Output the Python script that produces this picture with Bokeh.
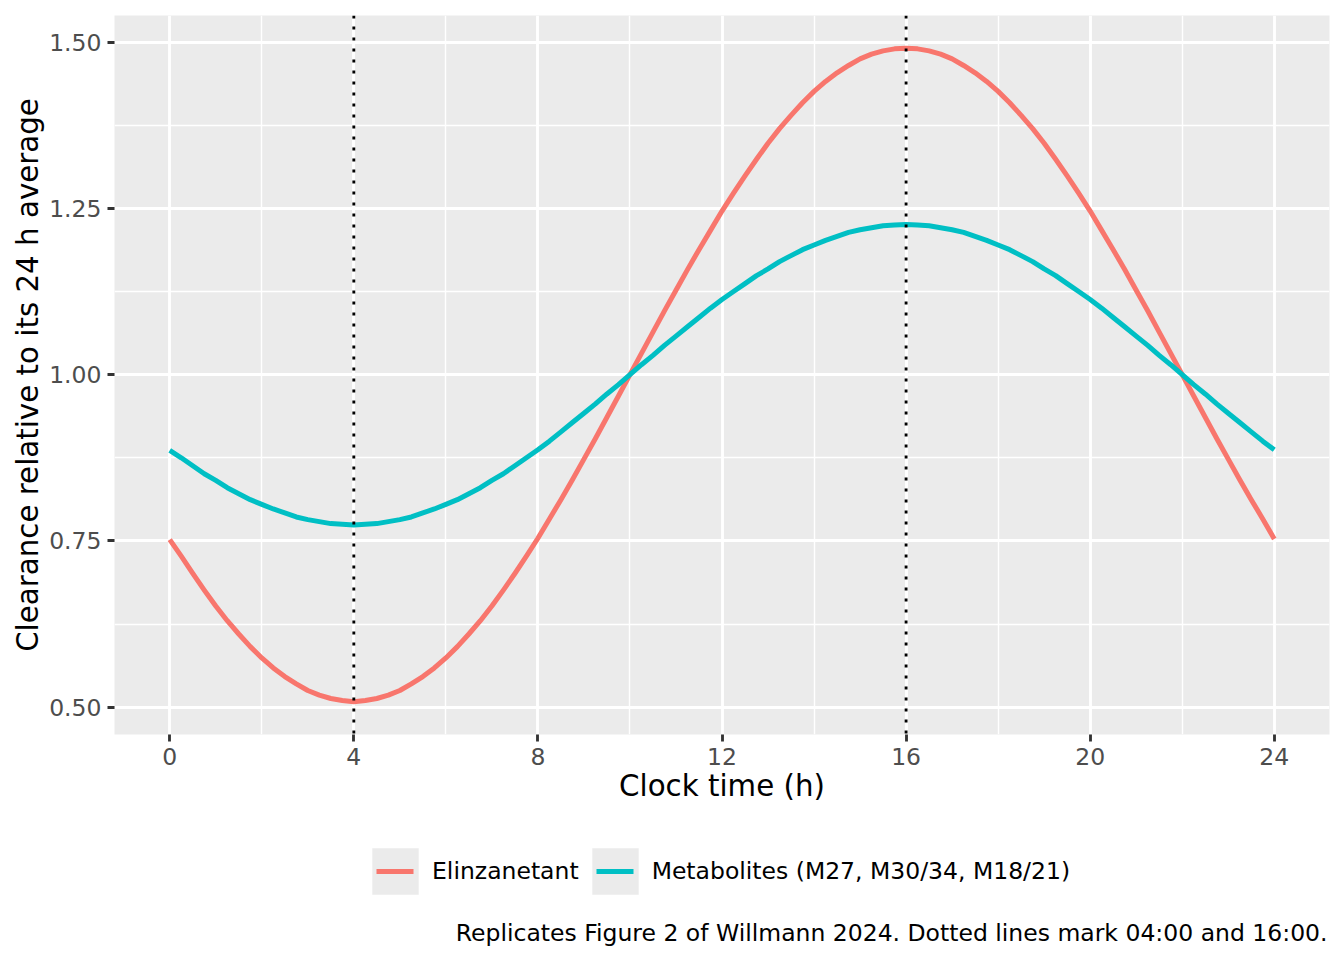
import numpy as np
from bokeh.plotting import figure
from bokeh.layouts import column
from bokeh.models import (Range1d, FixedTicker, PrintfTickFormatter, Span,
                          Legend, LegendItem, Label)
from bokeh.embed import file_html
from bokeh.resources import INLINE

# ---- data (every quarter hour) ----
hours = [0, 0.25, 0.5, 0.75, 1, 1.25, 1.5, 1.75, 2, 2.25, 2.5, 2.75, 3, 3.25,
         3.5, 3.75, 4, 4.25, 4.5, 4.75, 5, 5.25, 5.5, 5.75, 6, 6.25, 6.5,
         6.75, 7, 7.25, 7.5, 7.75, 8, 8.25, 8.5, 8.75, 9, 9.25, 9.5, 9.75,
         10, 10.25, 10.5, 10.75, 11, 11.25, 11.5, 11.75, 12, 12.25, 12.5,
         12.75, 13, 13.25, 13.5, 13.75, 14, 14.25, 14.5, 14.75, 15, 15.25,
         15.5, 15.75, 16, 16.25, 16.5, 16.75, 17, 17.25, 17.5, 17.75, 18,
         18.25, 18.5, 18.75, 19, 19.25, 19.5, 19.75, 20, 20.25, 20.5, 20.75,
         21, 21.25, 21.5, 21.75, 22, 22.25, 22.5, 22.75, 23, 23.25, 23.5,
         23.75, 24]
elinzanetant = [
    0.752, 0.727, 0.701, 0.676, 0.652, 0.630, 0.610, 0.591, 0.574, 0.559,
    0.546, 0.535, 0.525, 0.518, 0.513, 0.510, 0.508,
    0.510, 0.513, 0.518, 0.525, 0.535, 0.546, 0.559, 0.574, 0.591, 0.610,
    0.630, 0.652, 0.676, 0.701, 0.727, 0.754, 0.783, 0.812, 0.842, 0.873,
    0.904, 0.936, 0.968, 1.000, 1.032, 1.064, 1.096, 1.127, 1.158, 1.188,
    1.217, 1.246, 1.273, 1.299, 1.324, 1.348, 1.370, 1.390, 1.409, 1.426,
    1.441, 1.454, 1.465, 1.475, 1.482, 1.487, 1.490, 1.491,
    1.490, 1.487, 1.482, 1.475, 1.465, 1.454, 1.441, 1.426, 1.409, 1.390,
    1.370, 1.348, 1.324, 1.299, 1.273, 1.246, 1.217, 1.188, 1.158, 1.127,
    1.096, 1.064, 1.032, 1.000, 0.968, 0.936, 0.904, 0.873, 0.842, 0.812,
    0.783, 0.753]
metabolites = [
    0.886, 0.875, 0.863, 0.851, 0.841, 0.830, 0.821, 0.812, 0.805, 0.798,
    0.792, 0.786, 0.782, 0.779, 0.776, 0.775, 0.774,
    0.775, 0.776, 0.779, 0.782, 0.786, 0.792, 0.798, 0.805, 0.812, 0.821,
    0.830, 0.841, 0.851, 0.863, 0.875, 0.887, 0.900, 0.914, 0.928, 0.942,
    0.956, 0.971, 0.985, 1.000, 1.015, 1.029, 1.044, 1.058, 1.072, 1.086,
    1.100, 1.113, 1.125, 1.137, 1.149, 1.159, 1.170, 1.179, 1.188, 1.195,
    1.202, 1.208, 1.214, 1.218, 1.221, 1.224, 1.225, 1.226,
    1.225, 1.224, 1.221, 1.218, 1.214, 1.208, 1.202, 1.195, 1.188, 1.179,
    1.170, 1.159, 1.149, 1.137, 1.125, 1.113, 1.100, 1.086, 1.072, 1.058,
    1.044, 1.029, 1.015, 1.000, 0.985, 0.971, 0.956, 0.942, 0.928, 0.914,
    0.900, 0.887]
series_names = ["Elinzanetant", "Metabolites (M27, M30/34, M18/21)"]
series_colors = ["#F8766D", "#00BFC4"]
x_ticks = [0, 4, 8, 12, 16, 20, 24]
x_minor = [2, 6, 10, 14, 18, 22]
y_ticks = [0.50, 0.75, 1.00, 1.25, 1.50]
y_minor = [0.625, 0.875, 1.125, 1.375]
marks = [4, 16]
x_title = "Clock time (h)"
y_title = "Clearance relative to its 24 h average"
caption = "Replicates Figure 2 of Willmann 2024. Dotted lines mark 04:00 and 16:00."

FONT = "DejaVu Sans"
TICK_SIZE = "23.5px"
TITLE_SIZE = "29.3px"
W = 1336
H_MAIN = 816
H_LEG = 136

# ggplot-like 5% expansion
xmin, xmax = min(hours), max(hours)
xpad = 0.05 * (xmax - xmin)
all_y = elinzanetant + metabolites
ymin, ymax = min(all_y), max(all_y)
ypad = 0.05 * (ymax - ymin)

p = figure(width=W, height=H_MAIN, output_backend="svg", toolbar_location=None,
           x_range=Range1d(xmin - xpad, xmax + xpad),
           y_range=Range1d(ymin - ypad, ymax + ypad),
           min_border_left=114, min_border_right=7, min_border_top=15,
           min_border_bottom=H_MAIN - 734)

p.background_fill_color = "#EBEBEB"
p.border_fill_color = "white"
p.outline_line_color = None

xt = FixedTicker(ticks=x_ticks, minor_ticks=x_minor)
yt = FixedTicker(ticks=y_ticks, minor_ticks=y_minor)
p.xaxis.ticker = xt
p.yaxis.ticker = yt
p.xgrid.ticker = xt
p.ygrid.ticker = yt
p.yaxis.formatter = PrintfTickFormatter(format="%.2f")

for g in (p.xgrid, p.ygrid):
    g.grid_line_color = "white"
    g.grid_line_width = 2.85
    g.minor_grid_line_color = "white"
    g.minor_grid_line_width = 1.42

for ax in (p.xaxis, p.yaxis):
    ax.axis_line_color = None
    ax.major_tick_line_color = "#333333"
    ax.major_tick_line_width = 2.85
    ax.major_tick_out = 7
    ax.major_tick_in = 0
    ax.minor_tick_line_color = None
    ax.major_label_text_font = FONT
    ax.major_label_text_font_size = TICK_SIZE
    ax.major_label_text_color = "#4D4D4D"
    ax.axis_label_text_font = FONT
    ax.axis_label_text_font_size = TITLE_SIZE
    ax.axis_label_text_font_style = "normal"
    ax.axis_label_text_color = "black"

p.xaxis.axis_label = x_title
p.yaxis.axis_label = y_title
p.xaxis.major_label_standoff = 6
p.yaxis.major_label_standoff = 6
p.xaxis.axis_label_standoff = 1
p.yaxis.axis_label_standoff = 1

for vals, col in zip([elinzanetant, metabolites], series_colors):
    p.line(hours, vals, line_color=col, line_width=5, line_join="round")

for m in marks:
    p.add_layout(Span(location=m, dimension="height", line_color="black",
                      line_width=2.85, line_dash="3 8"))

# ---- legend + caption strip below the plot ----
# (its frame is aligned with the main plot's frame by the column layout)
q = figure(width=W, height=H_LEG, output_backend="svg", toolbar_location=None,
           x_range=Range1d(0, 1), y_range=Range1d(0, 1),
           x_axis_type=None, y_axis_type=None,
           min_border_left=0, min_border_right=0, min_border_top=0,
           min_border_bottom=0)
q.outline_line_color = None
q.background_fill_color = "white"
q.border_fill_color = "white"

nan_src = np.array([np.nan])
items = []
for name, col in zip(series_names, series_colors):
    box = q.rect(x=nan_src, y=nan_src, width=1, height=1,
                 fill_color="#EBEBEB", line_color=None)
    seg = q.line(x=nan_src, y=nan_src, line_color=col, line_width=5,
                 line_dash="0 10 37 1000")
    items.append(LegendItem(label=name, renderers=[box, seg]))

legend = Legend(items=items, location=(252, 52), orientation="horizontal",
                glyph_width=58, glyph_height=58, label_standoff=8, spacing=7,
                padding=0, margin=0, border_line_color=None,
                background_fill_alpha=0, label_text_font=FONT,
                label_text_font_size=TICK_SIZE, label_text_color="black")
q.add_layout(legend, "center")

q.add_layout(Label(x=1213, y=20, x_units="screen", y_units="screen",
                   text=caption, text_align="right", text_baseline="alphabetic",
                   text_font=FONT, text_font_size=TICK_SIZE,
                   text_color="black"))

open("out.html", "w").write(file_html(column(p, q, spacing=0), INLINE))
